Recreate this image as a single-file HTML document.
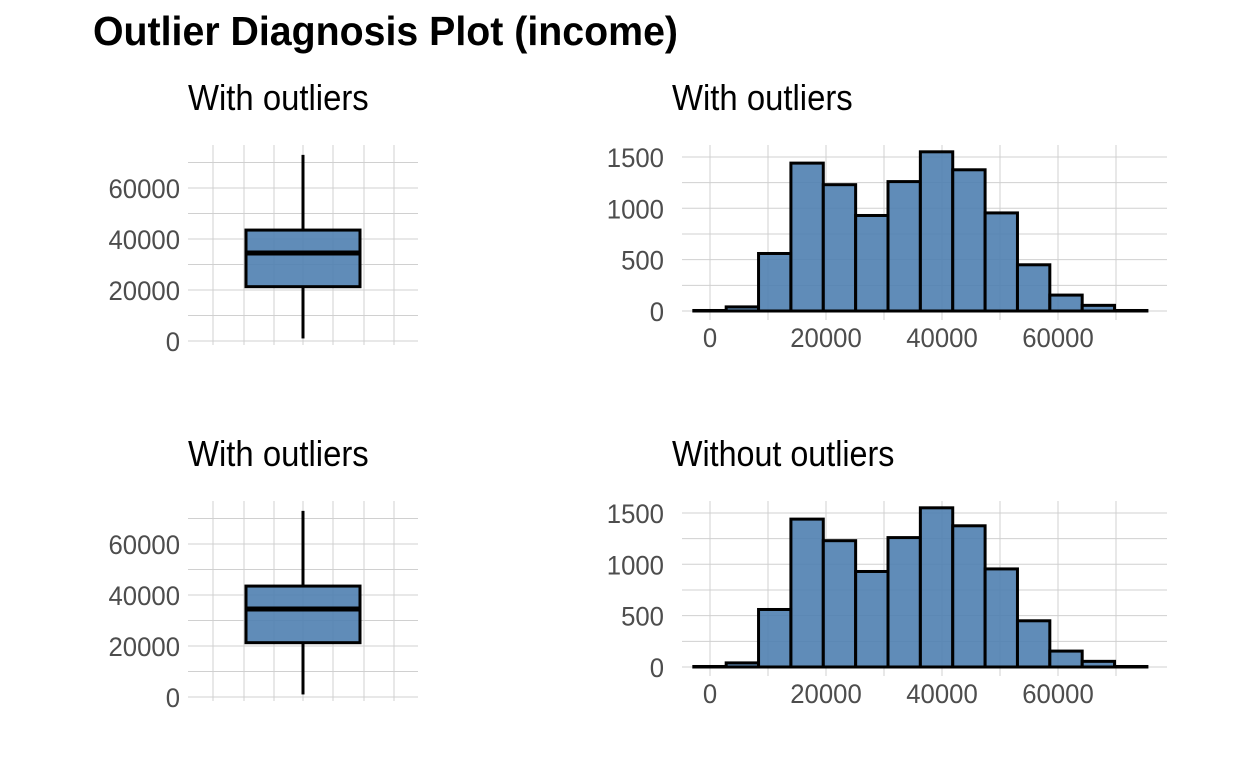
<!DOCTYPE html>
<html><head><meta charset="utf-8"><style>
html,body{margin:0;padding:0;background:#fff;}
svg{display:block;font-family:"Liberation Sans Narrow","Liberation Sans",sans-serif;}
</style></head><body>
<svg id="chart" width="1248" height="768" viewBox="0 0 1248 768">
<text x="93" y="45" font-size="41" font-weight="bold" fill="#000" textLength="585" lengthAdjust="spacingAndGlyphs">Outlier Diagnosis Plot (income)</text>
</svg>
<script>
// Histogram data
const binStart = -2790;
const binWidth = 5580;
const histCounts = [5, 40, 560, 1440, 1230, 930, 1260, 1550, 1375, 955, 450, 155, 55, 5];
const histYTicks = [0, 500, 1000, 1500];
const histXTicks = [0, 20000, 40000, 60000];
// Boxplot data
const boxStats = {min: 1000, q1: 21300, median: 34500, q3: 43500, max: 73000};
const boxYTicks = [0, 20000, 40000, 60000];
const panelTitles = ["With outliers", "With outliers", "With outliers", "Without outliers"];

const NS = "http://www.w3.org/2000/svg";
const svg = document.getElementById('chart');
function mk(tag, attrs, parent){
  const e = document.createElementNS(NS, tag);
  for (const k in attrs) e.setAttribute(k, attrs[k]);
  (parent||svg).appendChild(e);
  return e;
}
const FILL = "#4f7fb0";
const GRID = "#d0d0d0";
function tick(g, x, y, str, anchor, name){
  const t = mk('text', {x:x, y:y, 'font-size':27, fill:'#4d4d4d', 'text-anchor':anchor, textLength: String(str).length*14.3, lengthAdjust:'spacingAndGlyphs'}, g);
  t.textContent = str;
  
  
}
function title(g, x, y, str){
  const tt = mk('text', {x:x, y:y, 'font-size':36, fill:'#000', textLength: str.length*13.9, lengthAdjust:'spacingAndGlyphs'}, g);
  tt.textContent = str;
  
  
}

function boxPanel(dy, ttl, idx){
  const g = mk('g', {});
  
  
  const y = v => 341 + dy - v * 0.00255;
  const L = 188, R = 418, T = 145 + dy, B = 345 + dy;
  [213, 244, 274, 303, 333, 364, 394].forEach(x => {
    const l = mk('line', {x1:x, x2:x, y1:T, y2:B, stroke:GRID, 'stroke-width':1}, g);
    
    
  });
  for (let v = 0; v <= 70000; v += 10000) {
    const l = mk('line', {x1:L, x2:R, y1:y(v), y2:y(v), stroke:GRID, 'stroke-width':1}, g);
    
    
  }
  boxYTicks.forEach(v => tick(g, 180, y(v)+10, v, 'end', 'y-tick-label'));
  const cx = 303;
  const w1 = mk('line', {x1:cx, x2:cx, y1:y(boxStats.max), y2:y(boxStats.q3), stroke:'#000', 'stroke-width':3}, g);
  
  
  const w2 = mk('line', {x1:cx, x2:cx, y1:y(boxStats.q1), y2:y(boxStats.min), stroke:'#000', 'stroke-width':3}, g);
  
  
  const box = mk('rect', {x:246, y:y(boxStats.q3), width:114, height:y(boxStats.q1)-y(boxStats.q3), fill:FILL, 'fill-opacity':0.9, stroke:'#000', 'stroke-width':3}, g);
  
  
  const md = mk('line', {x1:246, x2:360, y1:y(boxStats.median), y2:y(boxStats.median), stroke:'#000', 'stroke-width':5}, g);
  
  
  title(g, 188, 110+dy, ttl);
}

function histPanel(dy, ttl, idx){
  const g = mk('g', {});
  
  
  const x = v => 710 + v * 0.0058;
  const y = c => 311 + dy - c * 0.1027;
  const L = 682, R = 1167, T = 145 + dy, B = 320 + dy;
  for (let v = 0; v <= 70000; v += 10000) {
    const l = mk('line', {x1:x(v), x2:x(v), y1:T, y2:B, stroke:GRID, 'stroke-width':1}, g);
    
    
  }
  for (let c = 0; c <= 1500; c += 250) {
    const l = mk('line', {x1:L, x2:R, y1:y(c), y2:y(c), stroke:GRID, 'stroke-width':1}, g);
    
    
  }
  histYTicks.forEach(c => tick(g, 664, y(c)+10, c, 'end', 'y-tick-label'));
  histXTicks.forEach(v => tick(g, x(v), 347+dy, v, 'middle', 'x-tick-label'));
  histCounts.forEach((c, i) => {
    const x0 = x(binStart + i*binWidth), x1 = x(binStart + (i+1)*binWidth);
    const r = mk('rect', {x:x0, y:y(c), width:x1-x0, height:y(0)-y(c), fill:FILL, 'fill-opacity':0.9, stroke:'#000', 'stroke-width':3}, g);
    
    
  });
  title(g, 672, 110+dy, ttl);
}

boxPanel(0, panelTitles[0], 1);
histPanel(0, panelTitles[1], 1);
boxPanel(356, panelTitles[2], 2);
histPanel(356, panelTitles[3], 2);
</script>
</body></html>
